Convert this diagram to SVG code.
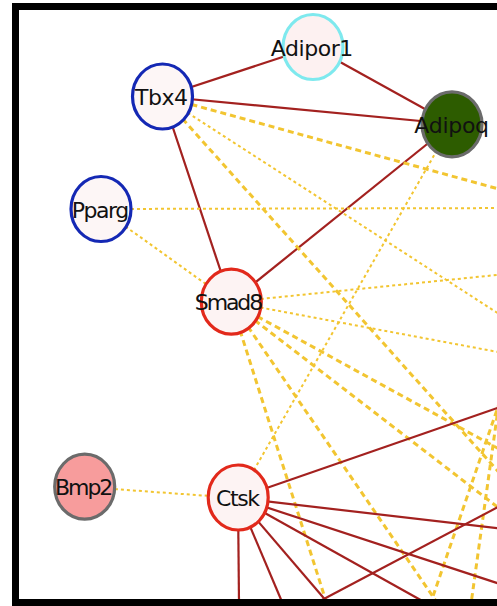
<svg xmlns="http://www.w3.org/2000/svg" width="497" height="606" viewBox="0 0 497 606">
<style>
.red{stroke:#a3211f;stroke-width:2.2;fill:none}
.tk{stroke:#f2c531;stroke-width:3;stroke-dasharray:6 4;fill:none}
.tn{stroke:#f2c531;stroke-width:2;stroke-dasharray:3 3;fill:none}
.lbl{font-family:"DejaVu Sans",sans-serif;font-size:22px;fill:#111;text-anchor:middle}
.nd{stroke-width:3.2}
</style>
<rect x="0" y="0" width="497" height="606" fill="#fff"/>
<g id="connectors">
<line class="red" x1="162.5" y1="96.5" x2="313" y2="47"/>
<line class="red" x1="162.5" y1="96.5" x2="452" y2="124"/>
<line class="red" x1="313" y1="47" x2="452" y2="124"/>
<line class="red" x1="162.5" y1="96.5" x2="231" y2="302"/>
<line class="red" x1="231" y1="302" x2="452" y2="124"/>
<line class="tk" x1="162.5" y1="96.5" x2="530" y2="197.6"/>
<line class="tn" x1="162.5" y1="96.5" x2="530" y2="334"/>
<line class="tk" x1="162.5" y1="96.5" x2="530" y2="507"/>
<line class="tn" x1="101" y1="209" x2="530" y2="208"/>
<line class="tn" x1="101" y1="209" x2="231" y2="302"/>
<line class="tn" x1="231" y1="302" x2="530" y2="271.6"/>
<line class="tn" x1="231" y1="302" x2="530" y2="358"/>
<line class="tk" x1="231" y1="302" x2="530" y2="466"/>
<line class="tk" x1="231" y1="302" x2="530" y2="532"/>
<line class="tk" x1="231" y1="302" x2="449" y2="620"/>
<line class="tk" x1="231" y1="302" x2="332" y2="620"/>
<line class="tn" x1="452" y1="124" x2="238" y2="498"/>
<line class="tn" x1="85" y1="487" x2="238" y2="498"/>
<line class="tk" x1="500" y1="401" x2="430" y2="605"/>
<line class="tk" x1="500" y1="395" x2="471" y2="604"/>
<line class="red" x1="238" y1="498" x2="500" y2="407"/>
<line class="red" x1="238" y1="498" x2="500" y2="528.5"/>
<line class="red" x1="238" y1="498" x2="500" y2="584"/>
<line class="red" x1="238" y1="498" x2="426" y2="603"/>
<line class="red" x1="238" y1="498" x2="328" y2="603"/>
<line class="red" x1="238" y1="498" x2="282.5" y2="603"/>
<line class="red" x1="238" y1="498" x2="239" y2="603"/>
<line class="red" x1="320" y1="601" x2="500" y2="506"/>
</g>
<g id="node-tbx4"><ellipse class="nd" cx="162.5" cy="96.5" rx="30" ry="32.5" fill="#fdf6f6" stroke="#1428b4"/><text class="lbl" x="161.5" y="105" textLength="53">Tbx4</text></g>
<g id="node-adipor1"><ellipse class="nd" cx="313" cy="47" rx="30" ry="32.5" fill="#fdf1f1" stroke="#7ee9ee"/><text class="lbl" x="312" y="55.5" textLength="82.6">Adipor1</text></g>
<g id="node-adipoq"><ellipse class="nd" cx="452" cy="124.3" rx="30" ry="32.5" fill="#2d5c00" stroke="#6b6b6b"/><text class="lbl" x="451.7" y="133" textLength="74.7">Adipoq</text></g>
<g id="node-pparg"><ellipse class="nd" cx="101" cy="209" rx="30" ry="32.5" fill="#fdf6f6" stroke="#1428b4"/><text class="lbl" x="100.5" y="217.5" textLength="57.6">Pparg</text></g>
<g id="node-smad8"><ellipse class="nd" cx="231.3" cy="301.7" rx="30" ry="32.5" fill="#fdf3f3" stroke="#e2291b"/><text class="lbl" x="229" y="310" textLength="68.3">Smad8</text></g>
<g id="node-bmp2"><ellipse class="nd" cx="84.7" cy="486.7" rx="30" ry="32.5" fill="#f79c9c" stroke="#6b6b6b"/><text class="lbl" x="84.2" y="495" textLength="58.3">Bmp2</text></g>
<g id="node-ctsk"><ellipse class="nd" cx="238.2" cy="497.5" rx="30" ry="32.5" fill="#fdf3f3" stroke="#e2291b"/><text class="lbl" x="238" y="506" textLength="44">Ctsk</text></g>
<rect x="15.5" y="6.5" width="500" height="596" fill="none" stroke="#000" stroke-width="7"/>
</svg>
